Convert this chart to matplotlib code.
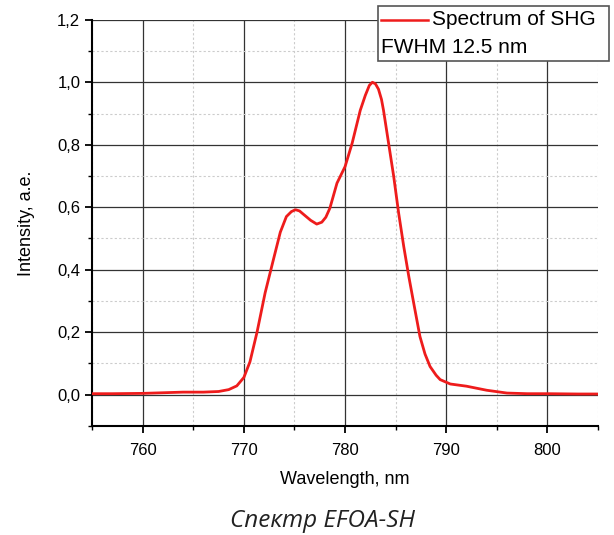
import matplotlib
matplotlib.use("Agg")
import matplotlib.pyplot as plt
from matplotlib.ticker import MultipleLocator, FuncFormatter
from matplotlib.lines import Line2D
from matplotlib.patches import Rectangle

wavelength = [755, 757, 760, 762, 764, 766, 767.5, 768.5, 769.3, 770.0, 770.6, 771.3, 772.1,
              772.9, 773.6, 774.2, 774.7, 775.1, 775.5, 775.9, 776.6, 777.2, 777.7, 778.1, 778.5, 779.2, 780.0,
              780.7, 781.5, 782.0, 782.4, 782.7, 783.0, 783.3, 783.6, 783.8, 784.3, 784.8, 785.3, 785.8, 786.3,
              786.8, 787.4, 787.9, 788.4, 789.0, 789.4, 790.4, 792.0, 794.0, 796.0, 798.0, 800.0, 803.0, 805.0]
intensity = [0.003, 0.003, 0.004, 0.006, 0.008, 0.008, 0.010, 0.016, 0.028, 0.055, 0.105, 0.20, 0.326,
             0.43, 0.52, 0.57, 0.586, 0.592, 0.588, 0.577, 0.558, 0.546, 0.552, 0.568, 0.597, 0.677, 0.73,
             0.805, 0.91, 0.958, 0.99, 1.0, 0.995, 0.978, 0.945, 0.91, 0.805, 0.70, 0.58, 0.474, 0.378,
             0.29, 0.186, 0.13, 0.09, 0.062, 0.048, 0.034, 0.027, 0.014, 0.005, 0.003, 0.003, 0.002, 0.002]

legend_label = "Spectrum of SHG"
fwhm_text = "FWHM 12.5 nm"
xlabel = "Wavelength, nm"
ylabel = "Intensity, a.e."
caption = "Спектр EFOA-SH"

plt.rcParams['font.family'] = ['Liberation Sans', 'DejaVu Sans']

fig = plt.figure(figsize=(6.14, 5.35), dpi=100)
ax = fig.add_axes([0.150, 0.204, 0.824, 0.759])

ax.plot(wavelength, intensity, color='#ee1c1c', lw=2.0, zorder=3)

ax.set_xlim(755, 805)
ax.set_ylim(-0.1, 1.2)
ax.xaxis.set_major_locator(MultipleLocator(10))
ax.xaxis.set_minor_locator(MultipleLocator(5))
ax.yaxis.set_major_locator(MultipleLocator(0.2))
ax.yaxis.set_minor_locator(MultipleLocator(0.1))
ax.yaxis.set_major_formatter(FuncFormatter(lambda v, p: f"{v:.1f}".replace('.', ',').replace('-0,0', '0,0')))

ax.grid(which='major', color='#333333', lw=0.9, ls='-')
ax.grid(which='minor', color='#cccccc', lw=0.8, ls=(0, (2, 2)))
ax.set_axisbelow(True)

for s in ['top', 'right']:
    ax.spines[s].set_visible(False)
for s in ['left', 'bottom']:
    ax.spines[s].set_linewidth(1.5)
    ax.spines[s].set_color('black')

ax.tick_params(which='major', direction='out', length=5, width=1.3, labelsize=12, colors='black')
ax.tick_params(which='minor', direction='out', length=3, width=1.0)
ax.tick_params(axis='x', pad=7)

ax.set_xlabel(xlabel, fontsize=13, labelpad=10)
ax.set_ylabel(ylabel, fontsize=13, labelpad=16)

# legend box (manual)
fig.patches.append(Rectangle((0.616, 0.886), 0.376, 0.103, transform=fig.transFigure,
                             facecolor='white', edgecolor='#555555', lw=1.2, zorder=5))
fig.lines.append(Line2D([0.621, 0.697], [0.963, 0.963], transform=fig.transFigure,
                        color='#ee1c1c', lw=1.8, zorder=6))
fig.text(0.703, 0.963, legend_label, fontsize=15, va='center', ha='left', zorder=7)
fig.text(0.620, 0.912, fwhm_text, fontsize=15, va='center', ha='left', zorder=7)

fig.text(0.526, 0.026, caption, fontsize=17.5, style='italic', ha='center', va='center',
         family=['Open Sans', 'DejaVu Sans'], color='#222222')

fig.savefig('out.png', dpi=100)
